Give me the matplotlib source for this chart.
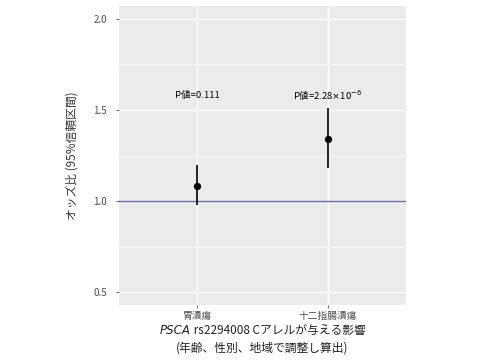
import matplotlib
matplotlib.use("Agg")
import matplotlib.pyplot as plt

plt.rcParams['font.family'] = ['Noto Sans CJK JP', 'DejaVu Sans']

# Data
categories = ["胃潰瘍", "十二指腸潰瘍"]
odds = [1.08, 1.34]
ci_low = [0.98, 1.18]
ci_high = [1.20, 1.51]
p_labels = ["P値=0.111", "P値=2.28$\\times$10$^{-6}$"]
yticks = [0.5, 1.0, 1.5, 2.0]

fig = plt.figure(figsize=(4.8, 3.6), dpi=100)
ax = fig.add_axes([119/480, 55/360, 287/480, 299/360])
ax.set_facecolor("#ebebeb")

x = list(range(1, len(categories) + 1))

# grid, ggplot style
for y in [0.75, 1.25, 1.75]:
    ax.axhline(y, color="white", lw=0.5, zorder=0)
for y in yticks:
    ax.axhline(y, color="white", lw=1.0, zorder=0)
for xi in x:
    ax.axvline(xi, color="white", lw=1.0, zorder=0)

ax.axhline(1.0, color="#6b6b9e", lw=1.0, zorder=1)

ax.vlines(x, ci_low, ci_high, color="black", lw=1.2, zorder=2)
ax.scatter(x, odds, color="black", s=18, zorder=3)

for xi, lab in zip(x, p_labels):
    ax.text(xi, 1.58, lab, ha="center", va="center", fontsize=6.8, color="black")

ax.set_xlim(0.4, 2.6)
ax.set_ylim(0.43, 2.07)
ax.set_xticks(x)
ax.set_xticklabels(categories)
ax.set_yticks(yticks)
ax.set_yticklabels([f"{v:.1f}" for v in yticks])
ax.tick_params(labelsize=7, colors="#4d4d4d", length=2.5, width=0.6)
ax.tick_params(axis="y", pad=6)
ax.tick_params(axis="x", pad=1.5)
for s in ax.spines.values():
    s.set_visible(False)

ax.set_ylabel("オッズ比 (95%信頼区間)", fontsize=8.5, color="#333333")
ax.yaxis.set_label_coords((79 - 119) / 287, 0.5)

# x label, first line with italic gene name
fig.canvas.draw()
r = fig.canvas.get_renderer()
t1 = fig.text(0, 1 - 330/360, "PSCA", fontsize=8.5, style="italic", family="DejaVu Sans",
              ha="left", va="center", color="#222222")
t2 = fig.text(0, 1 - 330/360, " rs2294008 Cアレルが与える影響", fontsize=8.5,
              ha="left", va="center", color="#222222")
w1 = t1.get_window_extent(r).width
w2 = t2.get_window_extent(r).width
x0 = 262.5 - (w1 + w2) / 2
t1.set_x(x0 / 480)
t2.set_x((x0 + w1) / 480)
fig.text(262.5/480, 1 - 348/360, "(年齢、性別、地域で調整し算出)", fontsize=8.5,
         ha="center", va="center", color="#222222")

fig.savefig("out.png", dpi=100)
